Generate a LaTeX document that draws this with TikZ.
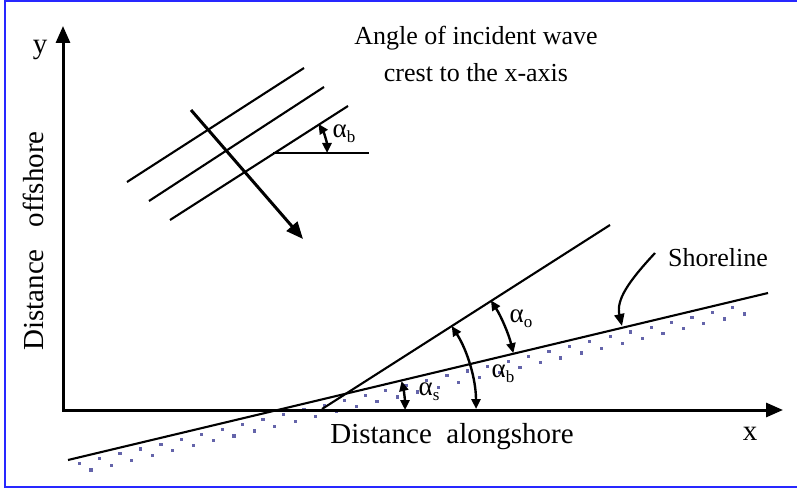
\documentclass[tikz,border=0pt]{standalone}
\usepackage{fontspec}
\setmainfont{Liberation Serif}
\usetikzlibrary{arrows.meta}
\definecolor{frameblue}{RGB}{40,40,255}
\definecolor{dotblue}{RGB}{100,100,170}
\begin{document}
\begin{tikzpicture}[x=1pt,y=-1pt,
 axis/.style={line width=3pt,line join=miter,{Triangle[length=17pt,width=14pt]}-{Triangle[length=17pt,width=14pt]}},
 wavearrow/.style={line width=3pt,-{Triangle[length=17pt,width=14pt]}},
 thinline/.style={line width=2.1pt},
 anglearc/.style={line width=2.4pt,{Triangle[length=10pt,width=9pt]}-{Triangle[length=10pt,width=9pt]}},
 lbl/.style={font=\fontsize{26}{30}\selectfont, inner sep=0pt},
 caplbl/.style={font=\fontsize{29}{32}\selectfont, inner sep=0pt},
 alab/.style={font=\fontsize{27}{28}\selectfont, inner sep=0pt},
 dot/.style={fill=dotblue}]
\useasboundingbox (0,0) rectangle (797,489);
\draw[frameblue,line width=2pt] (800,1) -- (5,1) -- (5,487) -- (800,487);

% dots below shoreline
\foreach \s in {10,31,...,700}{
  \fill[dot] ({68+0.9727*\s+0.2321*6-1.5},{460-0.2321*\s+0.9727*6-1.5}) rectangle ++(3.2,3.2);
  \fill[dot] ({68+0.9727*(\s+10)+0.2321*15-1.5},{460-0.2321*(\s+10)+0.9727*15-1.5}) rectangle ++(3.2,3.2);
}

% coordinates
\coordinate (O) at (63,410);
\coordinate (Ytip) at (63,26);
\coordinate (Xtip) at (783,410);
\coordinate (S1) at (68,460);
\coordinate (S2) at (768,293);
\coordinate (I1) at (322,409);
\coordinate (I2) at (610,225);
\coordinate (C1a) at (127,182); \coordinate (C1b) at (304,68);
\coordinate (C2a) at (149,201); \coordinate (C2b) at (324,87);
\coordinate (C3a) at (170,220); \coordinate (C3b) at (348,106);
\coordinate (H1) at (273,153); \coordinate (H2) at (369,153);
\coordinate (W1) at (191,110); \coordinate (W2) at (303,239);
\coordinate (A1) at (655,253); \coordinate (A2) at (622,326);

% axes
\draw[axis] (Ytip) -- (O) -- (Xtip);

% shoreline and incident line
\draw[thinline] (S1) -- (S2);
\draw[thinline] (I1) -- (I2);

% wave crests
\draw[thinline] (C1a) -- (C1b);
\draw[thinline] (C2a) -- (C2b);
\draw[thinline] (C3a) -- (C3b);
\draw[thinline] (H1) -- (H2);
\draw[wavearrow] (W1) -- (W2);

% angle arcs
\draw[anglearc] (327,153) arc[start angle=0,end angle=-32.6,radius=54];
\draw[anglearc] (405,410) arc[start angle=0,end angle=-13.4,radius=125];
\draw[anglearc] (476,409) arc[start angle=0,end angle=-32.6,radius=154];
\draw[anglearc] ({346+172*cos(13.4)},{393-172*sin(13.4)}) arc[start angle=-13.4,end angle=-32.6,radius=172];

% shoreline pointer
\draw[line width=2.2pt,-{Triangle[length=12pt,width=10pt]}] (A1) .. controls (628,282) and (616,300) .. (A2);

% labels
\node[alab] (ab1) at (344,134) {α\raisebox{-5pt}{\fontsize{17}{17}\selectfont b}};
\node[alab] (ao) at (521,319) {α\raisebox{-5pt}{\fontsize{17}{17}\selectfont o}};
\node[alab] (ab2) at (503,374) {α\raisebox{-5pt}{\fontsize{17}{17}\selectfont b}};
\node[alab] (as) at (429,392) {α\raisebox{-5pt}{\fontsize{17}{17}\selectfont s}};
\node[lbl] (title) at (476,38) {Angle of incident wave};
\node[lbl] (title2) at (476,73) {crest to the x-axis};
\node[lbl] (shore) at (718,258) {Shoreline};
\node[caplbl] (ylab) at (40,50) {y};
\node[caplbl] (xlab) at (750,434) {x};
\node[caplbl] (xcap) at (452,437) {Distance\ \ alongshore};
\node[caplbl,rotate=90] (ycap) at (33,241) {Distance\ \ \ offshore};
\end{tikzpicture}
\end{document}
